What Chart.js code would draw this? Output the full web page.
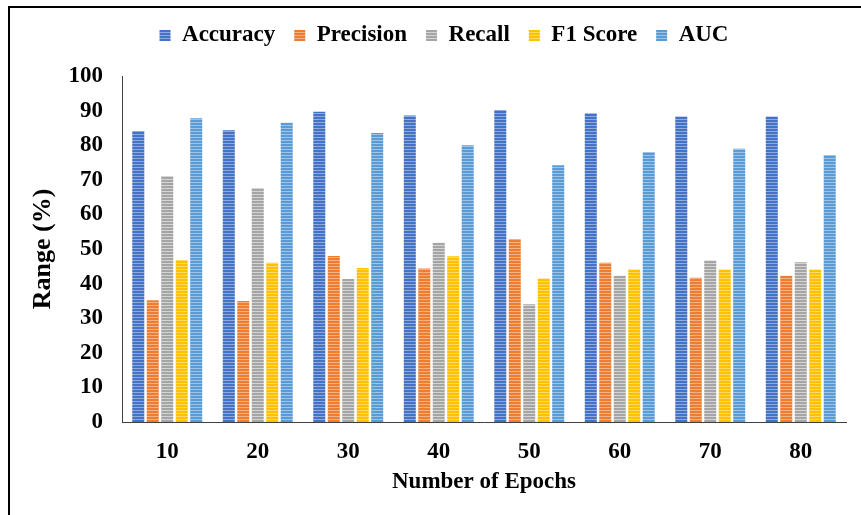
<!DOCTYPE html>
<html>
<head>
<meta charset="utf-8">
<script src="https://cdn.jsdelivr.net/npm/chart.js@4"></script>
<style>
  body { margin: 0; background: #fff; }
  #frame { position: absolute; left: 8px; top: 6px; width: 900px; height: 600px; border-top: 2px solid #000; border-left: 2px solid #000; }
  #wrap { position: absolute; left: 0; top: 0; width: 861px; height: 515px; }
</style>
</head>
<body>
<div id="frame"></div>
<div id="wrap"><canvas id="myChart"></canvas></div>
<script>
'use strict';

// data
var epochs = ['10', '20', '30', '40', '50', '60', '70', '80'];
var accuracy = [84.1, 84.3, 89.7, 88.6, 90.2, 89.2, 88.3, 88.3];
var precision = [35.2, 35.0, 48.0, 44.4, 52.9, 46.0, 41.7, 42.3];
var recall = [71.1, 67.6, 41.3, 51.8, 34.0, 42.3, 46.7, 46.2];
var f1Score = [46.8, 46.0, 44.5, 47.9, 41.5, 44.1, 44.1, 44.1];
var auc = [87.8, 86.5, 83.5, 80.0, 74.2, 78.0, 79.0, 77.2];
var yTicks = [0, 10, 20, 30, 40, 50, 60, 70, 80, 90, 100];

var serif = '"Liberation Serif", "Times New Roman", serif';

// horizontal stripe fill like the original bars
function stripes(dark, light) {
  var c = document.createElement('canvas');
  c.width = 1;
  c.height = 3;
  var g = c.getContext('2d');
  g.fillStyle = dark;
  g.fillRect(0, 0, 1, 2);
  g.fillStyle = light;
  g.fillRect(0, 2, 1, 1);
  return g.createPattern(c, 'repeat');
}

function series(label, data, dark, light) {
  return {
    label: label,
    data: data,
    backgroundColor: stripes(dark, light),
    borderWidth: 0,
    categoryPercentage: 0.8,
    barPercentage: 0.83
  };
}

// fixes the legend height and moves it to where it sits in the picture
var legendPlace = {
  id: 'legendPlace',
  beforeInit: function (chart) {
    var fit = chart.legend.fit;
    chart.legend.fit = function () {
      fit.call(this);
      this.height = 71;
    };
  },
  afterLayout: function (chart) {
    var lg = chart.legend;
    var shift = 444 - (lg.left + lg.right) / 2;
    lg.left += shift;
    lg.right += shift;
  }
};

var ctx = document.getElementById('myChart').getContext('2d');

var chart = new Chart(ctx, {
  type: 'bar',
  data: {
    labels: epochs,
    datasets: [
      series('Accuracy', accuracy, '#4472C4', '#8FAADC'),
      series('Precision', precision, '#ED7D31', '#F4B183'),
      series('Recall', recall, '#A5A5A5', '#D4D4D4'),
      series('F1 Score', f1Score, '#FFC000', '#FFD966'),
      series('AUC', auc, '#5B9BD5', '#9DC3E6')
    ]
  },
  options: {
    responsive: true,
    maintainAspectRatio: false,
    animation: false,
    layout: { padding: { left: 20, right: 15, top: 5, bottom: 0 } },
    plugins: {
      legend: {
        position: 'top',
        labels: {
          boxWidth: 11,
          boxHeight: 11,
          padding: 19,
          color: '#000',
          font: { family: serif, size: 23, weight: 'bold' }
        }
      },
      tooltip: { enabled: false }
    },
    scales: {
      x: {
        grid: { display: false, drawTicks: false },
        border: { color: '#404040', width: 1 },
        ticks: { color: '#000', padding: 16, font: { family: serif, size: 23, weight: 'bold' } },
        title: {
          display: true,
          text: 'Number of Epochs',
          color: '#000',
          padding: { top: 2, bottom: 19 },
          font: { family: serif, size: 23, weight: 'bold' }
        },
        afterFit: function (scale) { scale.height = 93; }
      },
      y: {
        min: 0,
        max: 100,
        grid: { display: false, drawTicks: false },
        border: { color: '#404040', width: 1 },
        afterBuildTicks: function (scale) {
          scale.ticks = yTicks.map(function (v) { return { value: v }; });
        },
        ticks: { color: '#000', padding: 19, font: { family: serif, size: 23, weight: 'bold' } },
        title: {
          display: true,
          text: 'Range (%)',
          color: '#000',
          padding: { top: 8, bottom: 0 },
          font: { family: serif, size: 26, weight: 'bold' }
        },
        afterFit: function (scale) { scale.width = 102; }
      }
    }
  },
  plugins: [legendPlace]
});
</script>
</body>
</html>
